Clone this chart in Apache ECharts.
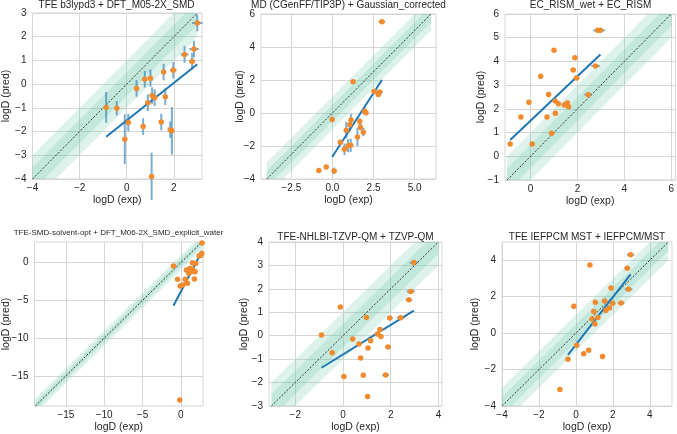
<!DOCTYPE html>
<html>
<head>
<meta charset="utf-8">
<script src="https://cdn.jsdelivr.net/npm/echarts@6/dist/echarts.min.js"></script>
<style>
html,body{margin:0;padding:0;background:#fff;}
#chart{width:677px;height:434px;}
</style>
</head>
<body>
<div id="chart"></div>
<script>
// ---------------- data ----------------
// each point: [logD exp, logD pred, exp error, pred error]
const titles = [
  "TFE b3lypd3 + DFT_M05-2X_SMD",
  "MD (CGenFF/TIP3P) + Gaussian_corrected",
  "EC_RISM_wet + EC_RISM",
  "TFE-SMD-solvent-opt + DFT_M06-2X_SMD_explicit_water",
  "TFE-NHLBI-TZVP-QM + TZVP-QM",
  "TFE IEFPCM MST + IEFPCM/MST"
];

const p1Points = [
  [-0.87,-0.98,0,0.65],[-0.42,-1.02,0,0.3],[-0.08,-2.32,0,1.05],[0.07,-1.62,0,0.36],
  [0.42,-0.18,0,0.35],[0.70,-1.79,0,0.35],[0.77,0.21,0,0.35],[0.90,-0.78,0,0.35],
  [1.01,0.25,0,0.36],[1.06,-3.89,0,1.0],[1.08,-0.48,0,0.35],[1.19,-0.57,0,0.35],
  [1.47,-1.60,0,0.35],[1.57,0.51,0,0.35],[1.64,-0.53,0,0.35],[1.85,-1.92,0,0.35],
  [1.92,-1.97,0,1.0],[1.98,0.59,0.14,0.35],[2.46,1.25,0.17,0.35],[2.78,0.96,0.13,0.35],
  [2.86,1.48,0.2,0.35],[3.00,2.58,0.22,0.35]
];
const p2Points = [
  [-0.83,-3.49,0,0.1],[-0.38,-3.27,0,0.1],[-0.02,-0.39,0,0.15],[0.10,-3.51,0,0.2],
  [0.48,-1.78,0,0.15],[0.73,-2.20,0,0.35],[0.84,-1.04,0,0.5],[0.95,-1.98,0,0.4],
  [1.06,-0.71,0,0.35],[1.11,-1.96,0,0.4],[1.13,-0.42,0,0.35],[1.25,1.90,0,0.1],
  [1.52,-1.45,0,0.55],[1.66,-0.51,0,0.2],[1.70,-0.86,0,0.2],[1.88,-1.16,0.13,0.25],
  [1.96,0.10,0,0.2],[2.04,0.02,0,0.15],[2.53,1.31,0.15,0.1],[2.79,1.12,0.13,0.15],
  [2.87,1.28,0.2,0.1],[3.01,5.53,0.2,0.1]
];
const p3Points = [
  [-0.87,0.52,0,0],[-0.41,1.66,0,0],[-0.07,2.28,0,0],[0.07,0.52,0,0],
  [0.43,3.37,0,0],[0.70,1.66,0,0],[0.77,2.61,0,0],[0.90,0.97,0,0],
  [1.00,4.47,0,0],[1.05,2.33,0,0],[1.06,1.81,0,0],[1.19,2.22,0,0],
  [1.44,2.16,0,0],[1.50,2.18,0,0],[1.57,2.25,0,0],[1.62,2.09,0.1,0],
  [1.82,3.64,0.1,0],[1.89,4.15,0.1,0],[1.96,3.30,0.12,0],[2.46,2.60,0.16,0],
  [2.77,3.81,0.18,0],[2.87,5.31,0.2,0],[2.98,5.31,0.2,0]
];
const p4Points = [
  [-0.96,-0.44,0,0],[-0.43,-2.19,0,0],[-0.09,-3.07,0,0],[0.26,-2.94,0,0],
  [0.57,-2.19,0,0],[0.74,-0.96,0,0],[0.87,-2.72,0,0],[0.96,-0.96,0,0],
  [1.04,-1.40,0,0],[1.17,-0.75,0,0],[1.30,-1.18,0,0],[1.43,-0.83,0,0],
  [1.52,0.00,0,0],[1.60,-0.96,0,0],[1.78,-2.15,0,0],[1.87,-1.18,0,0],
  [1.96,-0.09,0,0],[2.39,0.88,0,0],[2.60,1.00,0,0],[2.74,1.23,0,0],
  [2.78,2.63,0,0],[-0.13,-18.2,0,0]
];
const p5Points = [
  [-0.90,0.03,0,0],[-0.45,-0.73,0,0],[-0.11,1.23,0,0],[0.04,-1.74,0,0],
  [0.41,-0.14,0,0],[0.67,-0.35,0,0],[0.74,-0.95,0,0],[0.85,-1.69,0,0],
  [0.98,0.78,0,0],[1.03,-2.59,0,0],[1.05,-0.52,0,0],[1.16,-0.22,0,0],
  [1.45,0.07,0,0],[1.55,0.27,0.1,0],[1.59,-0.03,0.1,0],[1.79,-1.68,0.14,0],
  [1.89,-0.48,0.12,0],[1.96,0.76,0.12,0],[2.42,0.77,0.17,0],[2.76,1.53,0.14,0],
  [2.84,1.89,0.17,0],[2.97,3.12,0.18,0]
];
const p6Points = [
  [-0.87,-3.09,0,0],[-0.43,-1.44,0,0],[-0.11,1.47,0,0],[0.04,-0.67,0,0],
  [0.42,-1.13,0,0],[0.69,-0.94,0,0],[0.76,3.74,0,0],[0.87,0.77,0,0],
  [0.97,1.19,0,0],[1.05,1.69,0,0],[1.03,0.50,0,0],[1.19,0.86,0,0],
  [1.44,-1.29,0,0],[1.55,1.76,0,0],[1.62,1.24,0,0],[1.82,1.38,0.1,0],
  [1.90,2.48,0.1,0],[1.99,1.64,0.12,0],[2.44,1.65,0.18,0],[2.78,3.56,0.15,0],
  [2.85,2.41,0.2,0],[2.96,4.30,0.2,0]
];

// regression lines: [slope, intercept]
const fits = [[0.79,-1.53],[1.54,-2.64],[0.936,1.50],[1.94,-3.84],[0.63,-0.80],[1.30,-0.63]];

// axis limits
const xLimits = [[-4,3.2],[-4.35,6.3],[-1.09,6.18],[-19.1,2.9],[-3.1,4.15],[-4,5.2]];
const yLimits = [[-4,3],[-4,6],[-1,6],[-19,2.75],[-3,4],[-4,5]];
// tick labels
const xTicks = [[-4,-2,0,2],[-2.5,0,2.5,5],[0,2,4,6],[-15,-10,-5,0],[-2,0,2,4],[-4,-2,0,2,4]];
const yTicks = [[-4,-3,-2,-1,0,1,2,3],[-4,-2,0,2,4,6],[-1,0,1,2,3,4,5,6],[-15,-10,-5,0],[-3,-2,-1,0,1,2,3,4],[-4,-2,0,2,4]];
const xTickDecimals = [0,1,0,0,0,0];
// agreement bands half-widths (log units)
const bandWidths = [1, 0.5];

const allPoints = [p1Points,p2Points,p3Points,p4Points,p5Points,p6Points];

// ---------------- layout ----------------
const rects = [
  {left:31, top:13, width:171, height:166},
  {left:261, top:14, width:175, height:165},
  {left:505, top:14, width:171, height:166},
  {left:34, top:242, width:169, height:165},
  {left:269, top:242, width:173, height:167},
  {left:502, top:242, width:170, height:166}
];
const yNameGaps = [20.5, 15, 18.5, 22.5, 19.5, 21.5];
const titleTops = [0, 0, 0, 229, 232, 232];
const titleSizes = [10, 10, 10, 8, 10, 10];

const FONT = "'Liberation Sans', Arial, sans-serif";
const TXT = '#262626';
const GRIDC = '#d6d6d6';

function fmt(v, d){ const s = Math.abs(v).toFixed(d); return (v < 0 ? '\u2212' : '') + s; }

function clipPoly(pts, r){
  const x0=r.x, x1=r.x+r.width, y0=r.y, y1=r.y+r.height;
  const ix=(a,b,x)=>{const t=(x-a[0])/(b[0]-a[0]);return [x,a[1]+t*(b[1]-a[1])];};
  const iy=(a,b,y)=>{const t=(y-a[1])/(b[1]-a[1]);return [a[0]+t*(b[0]-a[0]),y];};
  const edges=[[p=>p[0]>=x0,(a,b)=>ix(a,b,x0)],[p=>p[0]<=x1,(a,b)=>ix(a,b,x1)],
               [p=>p[1]>=y0,(a,b)=>iy(a,b,y0)],[p=>p[1]<=y1,(a,b)=>iy(a,b,y1)]];
  let out=pts;
  for(const [inside,inter] of edges){
    const inp=out; out=[];
    for(let i=0;i<inp.length;i++){
      const cur=inp[i], prev=inp[(i+inp.length-1)%inp.length];
      if(inside(cur)){ if(!inside(prev)) out.push(inter(prev,cur)); out.push(cur); }
      else if(inside(prev)) out.push(inter(prev,cur));
    }
    if(!out.length) break;
  }
  return out;
}

const grids=[], xAxes=[], yAxes=[], series=[], titleOpts=[];
for(let i=0;i<6;i++){
  const r=rects[i];
  grids.push({left:r.left, top:r.top, width:r.width, height:r.height, show:true,
    borderColor:GRIDC, borderWidth:1, backgroundColor:'transparent'});
  titleOpts.push({text:titles[i], left:r.left + r.width/2, top:titleTops[i], textAlign:'center', padding:0,
    textStyle:{fontFamily:FONT, fontSize:titleSizes[i], fontWeight:'normal', color:TXT}});
  const dec = xTickDecimals[i];
  xAxes.push({type:'value', gridIndex:i, min:xLimits[i][0], max:xLimits[i][1],
    name:'logD (exp)', nameLocation:'middle', nameGap:16, nameMoveOverlap:false,
    nameTextStyle:{fontFamily:FONT, fontSize:10.5, color:TXT},
    axisLine:{show:false}, axisTick:{show:false, customValues:xTicks[i]},
    axisLabel:{customValues:xTicks[i], formatter:v=>fmt(v,dec), fontFamily:FONT, fontSize:10, color:TXT, margin:4},
    splitLine:{show:true, lineStyle:{color:GRIDC, width:1}}});
  yAxes.push({type:'value', gridIndex:i, min:yLimits[i][0], max:yLimits[i][1],
    name:'logD (pred)', nameLocation:'middle', nameGap:yNameGaps[i], nameRotate:90, nameMoveOverlap:false,
    nameTextStyle:{fontFamily:FONT, fontSize:10.5, color:TXT},
    axisLine:{show:false}, axisTick:{show:false, customValues:yTicks[i]},
    axisLabel:{customValues:yTicks[i], formatter:v=>fmt(v,0), fontFamily:FONT, fontSize:10, color:TXT, margin:6},
    splitLine:{show:true, lineStyle:{color:GRIDC, width:1}}});

  const lo=yLimits[i][0], hi=yLimits[i][1];
  // agreement bands
  bandWidths.forEach(w=>{
    series.push({type:'custom', xAxisIndex:i, yAxisIndex:i, silent:true, z:1,
      data:[[lo,hi,w]],
      renderItem:(params,api)=>{
        const a=api.value(0), b=api.value(1), ww=api.value(2);
        const pts=[[a,a-ww],[b,b-ww],[b,b+ww],[a,a+ww]].map(p=>api.coord(p));
        const cs=params.coordSys;
        const clipped=clipPoly(pts,{x:cs.x,y:cs.y,width:cs.width,height:cs.height});
        if(clipped.length<3) return null;
        return {type:'polygon', shape:{points:clipped}, style:{fill:'rgba(102,194,165,0.22)'}};
      }});
  });
  // diagonal
  series.push({type:'line', xAxisIndex:i, yAxisIndex:i, data:[[lo,lo],[hi,hi]], symbol:'none', silent:true, z:2,
    clip:true, lineStyle:{color:'#222', width:0.9, type:[2,1.6]}});
  // error bars
  series.push({type:'custom', xAxisIndex:i, yAxisIndex:i, silent:true, z:3,
    data:allPoints[i], encode:{x:0,y:1},
    renderItem:(params,api)=>{
      const x=api.value(0), y=api.value(1), xe=api.value(2), ye=api.value(3);
      const ch=[];
      const st={stroke:'rgba(31,119,180,0.6)', lineWidth:2};
      if(ye>0){const p1=api.coord([x,y-ye]), p2=api.coord([x,y+ye]);
        ch.push({type:'line', shape:{x1:p1[0],y1:p1[1],x2:p2[0],y2:p2[1]}, style:st});}
      if(xe>0){const p1=api.coord([x-xe,y]), p2=api.coord([x+xe,y]);
        ch.push({type:'line', shape:{x1:p1[0],y1:p1[1],x2:p2[0],y2:p2[1]}, style:st});}
      return {type:'group', children:ch};
    }});
  // regression
  const xs=allPoints[i].filter(p=>p[1]>yLimits[i][0]+1).map(p=>p[0]);
  const xmin=Math.min(...xs), xmax=Math.max(...xs);
  const f=fits[i];
  series.push({type:'line', xAxisIndex:i, yAxisIndex:i, symbol:'none', silent:true, z:4,
    data:[[xmin,f[0]*xmin+f[1]],[xmax,f[0]*xmax+f[1]]],
    lineStyle:{color:'#1f77b4', width:2}});
  // points
  series.push({type:'scatter', xAxisIndex:i, yAxisIndex:i, silent:true, z:5,
    data:allPoints[i].map(p=>[p[0],p[1]]), symbol:'circle', symbolSize:5.5,
    itemStyle:{color:'#f28a2e', opacity:1}});
}

const chart=echarts.init(document.getElementById('chart'), null, {renderer:'canvas'});
chart.setOption({animation:false, backgroundColor:'#fff', title:titleOpts,
  grid:grids, xAxis:xAxes, yAxis:yAxes, series:series});
</script>
</body>
</html>
